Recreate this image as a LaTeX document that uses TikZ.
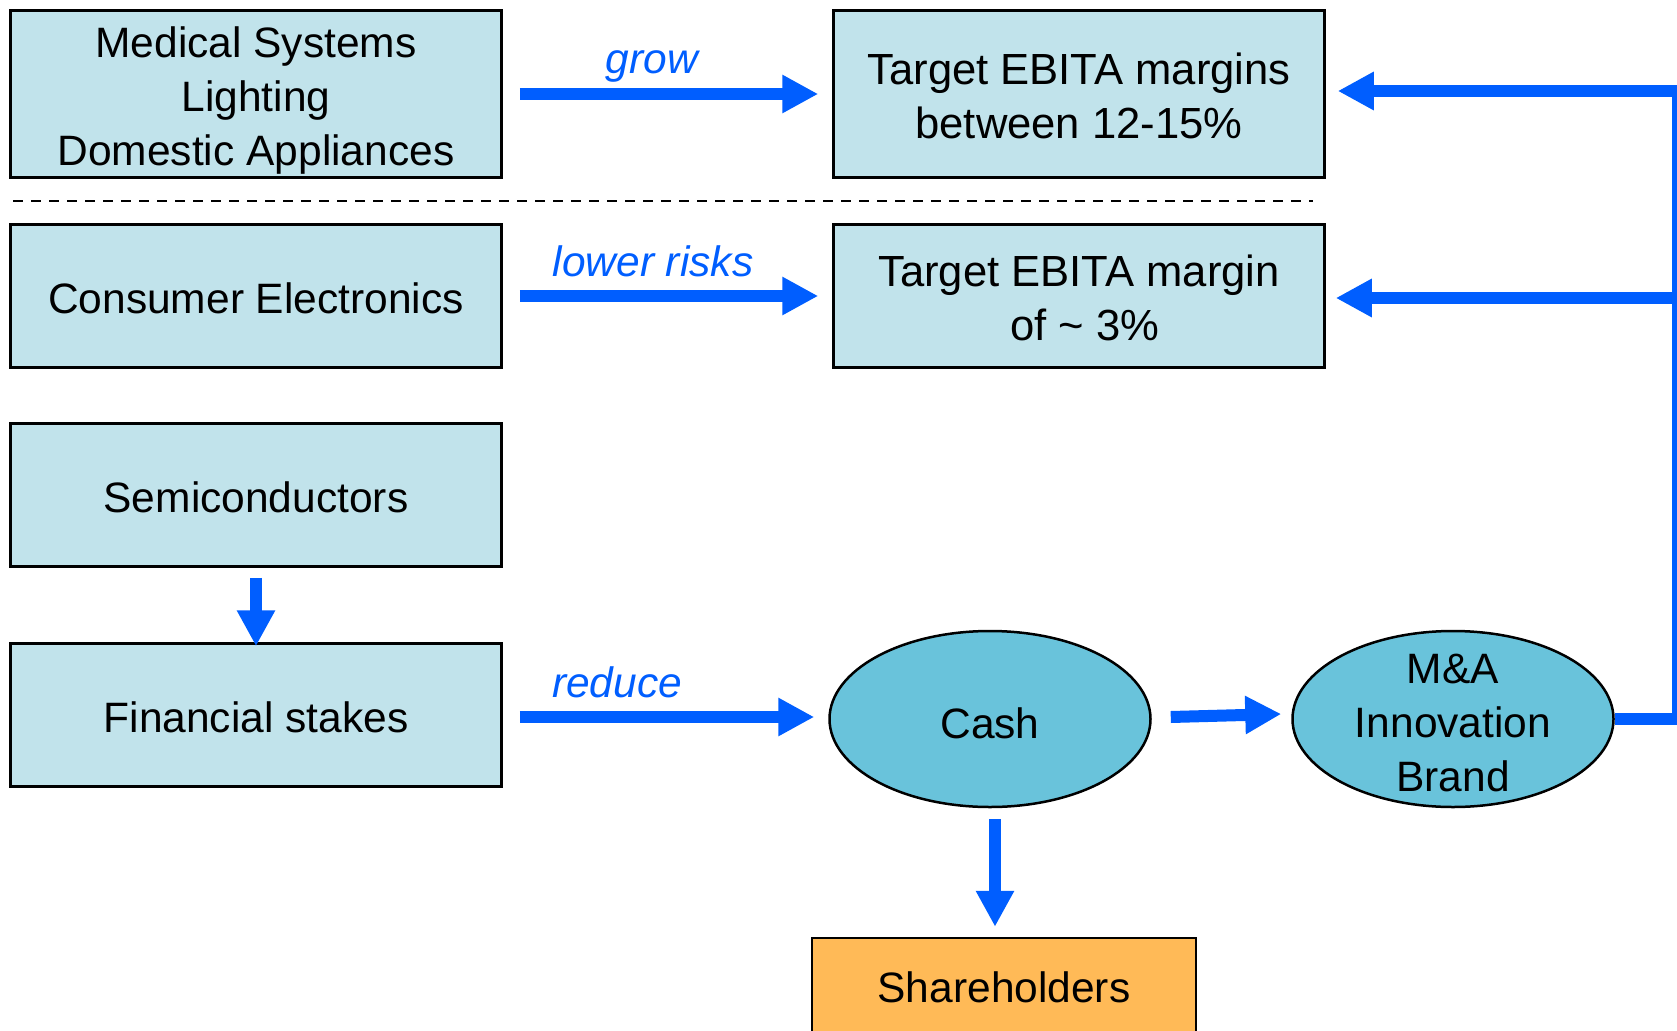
\documentclass[tikz,border=0pt]{standalone}
\usepackage{fontspec}
\setmainfont{Liberation Sans}
\usetikzlibrary{shapes,arrows.meta}

\definecolor{boxblue}{HTML}{C1E3EB}
\definecolor{cashblue}{HTML}{69C3DB}
\definecolor{holderorange}{HTML}{FFBA57}
\definecolor{flowblue}{HTML}{005EFF}

\newcommand{\lift}[1]{\rule{0pt}{#1}}

\begin{document}
\begin{tikzpicture}[x=1pt, y=1pt]

% Define styles
\tikzstyle{box} = [rectangle, draw, line width=2.5pt, fill=boxblue, minimum width=491pt, minimum height=143pt, inner sep=0pt, align=center, font=\fontsize{42.5}{54}\selectfont]
\tikzstyle{blob} = [ellipse, draw, line width=2.5pt, fill=cashblue, minimum width=321pt, minimum height=176pt, inner sep=0pt, align=center, font=\fontsize{42.5}{54}\selectfont]
\tikzstyle{arrow} = [line width=12pt, draw=flowblue, -{Triangle[length=36pt,width=36pt]}]
\tikzstyle{verb} = [text=flowblue, anchor=base, inner sep=0pt, font=\fontsize{42.5}{54}\selectfont\itshape]

\useasboundingbox (0,0) rectangle (1677,-1030);

% Nodes
\node [box, minimum height=167pt] (medical) at (256,-94) {\lift{43pt}Medical Systems\\Lighting\\Domestic Appliances};
\node [box, below of=medical, node distance=202pt] (consumer) {\lift{35pt}Consumer Electronics};
\node [box, below of=consumer, node distance=199pt] (semis) {\lift{35pt}Semiconductors};
\node [box, below of=semis, node distance=220pt] (stakes) {\lift{35pt}Financial stakes};

\node [box, minimum height=167pt, right of=medical, node distance=823pt, font=\fontsize{43.6}{54}\selectfont] (highmargin) {\lift{36pt}Target EBITA margins\\between 12-15\%};
\node [box, right of=consumer, node distance=823pt, font=\fontsize{43.6}{54}\selectfont] (lowmargin) {\lift{36pt}Target EBITA margin\\\hspace*{12pt}of \textasciitilde{} 3\%};

\node [blob] (cash) at (990,-719) {\lift{39pt}Cash};
\node [blob, right of=cash, node distance=463pt, label={[align=center, font=\fontsize{42.5}{54}\selectfont]center:\lift{37pt}M\&A\\Innovation\\Brand}] (mna) {};
\node [box, fill=holderorange, minimum width=384pt, minimum height=98pt] (holders) at (1004,-987) {Shareholders};

% Separator
\coordinate (sepleft) at (13,-201);
\coordinate (sepright) at (1313,-201);
\draw [line width=2pt, dash pattern=on 10pt off 8pt] (sepleft) -- (sepright);

% Arrows
\draw [arrow] ([xshift=17pt]medical.east) -- ([xshift=-14pt]highmargin.west);
\draw [arrow] ([xshift=17pt]consumer.east) -- ([xshift=-14pt]lowmargin.west);
\draw [arrow] ([shift={(17pt,-2pt)}]stakes.east) -- ([shift={(-14pt,-2pt)}]stakes.east -| cash.west);
\draw [arrow] ([yshift=-10pt]semis.south) -- ([yshift=-4pt]stakes.north);
\draw [arrow] ([shift={(19pt,2pt)}]cash.east) -- ([shift={(-10pt,5pt)}]mna.west);
\draw [arrow] ([shift={(5pt,-11pt)}]cash.south) -- ([shift={(-9pt,10pt)}]holders.north);

% Feedback
\draw [arrow] (mna.east) -| ([shift={(352pt,3pt)}]highmargin.east) -- ([shift={(12pt,3pt)}]highmargin.east);
\draw [arrow] ([shift={(352pt,-2pt)}]lowmargin.east) -- ([shift={(10pt,-2pt)}]lowmargin.east);

% Labels
\node [verb] (growlabel) at (652,-74) {grow};
\node [verb] (risklabel) at (653,-276) {lower risks};
\node [verb, anchor=base west] (reducelabel) at (552,-697) {reduce};

\end{tikzpicture}
\end{document}
